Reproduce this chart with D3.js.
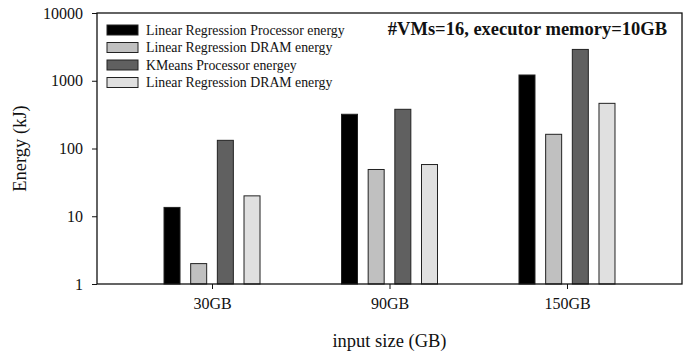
<!DOCTYPE html>
<html>
<head>
<meta charset="utf-8">
<title>Energy by input size</title>
<script src="https://cdnjs.cloudflare.com/ajax/libs/d3/7.8.5/d3.min.js"></script>
<style>
  body { margin: 0; background: #fff; }
  svg text { font-family: "Liberation Serif", "Times New Roman", serif; fill: #111; }
</style>
</head>
<body>
<div id="chart"></div>
<script>
// data
var sizes = ["30GB", "90GB", "150GB"];
var seriesNames = ["Linear Regression Processor energy", "Linear Regression DRAM energy",
                   "KMeans Processor energey", "Linear Regression DRAM energy"];
var lrProc  = [13.5, 320, 1216];
var lrDram  = [2.0, 49, 162];
var kmProc  = [132, 379, 2900];
var lrDram2 = [20, 58, 464];
var yTicks = [1, 10, 100, 1000, 10000];

var fills = ["#000000", "#c0c0c0", "#606060", "#e0e0e0"];
var allSeries = [lrProc, lrDram, kmProc, lrDram2];

var W = 694, H = 354;
var m = {top: 13, right: 12, bottom: 70, left: 97};
var serif = "'Liberation Serif', 'Times New Roman', serif";

var svg = d3.select("#chart").append("svg")
    .attr("width", W).attr("height", H);

var x = d3.scalePoint().domain(sizes)
    .range([m.left, W - m.right]).padding(0.648);
var y = d3.scaleLog().domain([1, 10000])
    .range([H - m.bottom, m.top]);
var inner = d3.scaleBand().domain(d3.range(4))
    .range([-48, 48]).paddingInner(0.4);

// bars
allSeries.forEach(function(vals, s) {
    svg.append("g").selectAll("rect")
        .data(vals)
        .enter().append("rect")
        .attr("x", function(d, i) { return x(sizes[i]) + inner(s); })
        .attr("y", function(d) { return y(d); })
        .attr("width", inner.bandwidth())
        .attr("height", function(d) { return y(1) - y(d); })
        .style("fill", fills[s])
        .style("stroke", "#222")
        .style("stroke-width", 1);
});

// frame
svg.append("rect")
    .attr("x", m.left).attr("y", m.top)
    .attr("width", W - m.right - m.left)
    .attr("height", H - m.bottom - m.top)
    .style("fill", "none").style("stroke", "#111").style("stroke-width", 1.3);

var yAxis = svg.append("g")
    .attr("transform", "translate(" + m.left + ",0)")
    .call(d3.axisLeft(y).tickValues(yTicks).tickFormat(d3.format("d"))
        .tickSize(5).tickPadding(9));
var xAxis = svg.append("g")
    .attr("transform", "translate(0," + (H - m.bottom) + ")")
    .call(d3.axisBottom(x).tickSize(5).tickPadding(9));
[yAxis, xAxis].forEach(function(a) {
    a.attr("font-family", serif).attr("font-size", 16);
    a.select(".domain").remove();
    a.selectAll("line").style("stroke", "#111");
    a.selectAll("text").style("font-size", "16px")
        .style("font-family", serif).style("fill", "#111");
});

// axis titles
svg.append("text")
    .attr("transform", "translate(26," + ((m.top + H - m.bottom) / 2) + ") rotate(-90)")
    .attr("text-anchor", "middle")
    .style("font-family", serif)
    .style("font-size", "18.5px")
    .text("Energy (kJ)");
svg.append("text")
    .attr("x", (m.left + W - m.right) / 2).attr("y", 347)
    .attr("text-anchor", "middle")
    .style("font-family", serif)
    .style("font-size", "18.5px")
    .text("input size (GB)");

// annotation
svg.append("text")
    .attr("x", 667).attr("y", 35)
    .attr("text-anchor", "end")
    .style("font-family", serif)
    .style("font-size", "18.5px").style("font-weight", "bold")
    .text("#VMs=16, executor memory=10GB");

// legend
var leg = svg.append("g").selectAll("g")
    .data(seriesNames)
    .enter().append("g")
    .attr("transform", function(d, i) { return "translate(107," + (30 + i * 17.5) + ")"; });
leg.append("rect")
    .attr("x", 0).attr("y", -5)
    .attr("width", 31).attr("height", 10)
    .style("fill", function(d, i) { return fills[i]; })
    .style("stroke", "#222").style("stroke-width", 1);
leg.append("text")
    .attr("x", 39).attr("y", 4.5)
    .style("font-family", serif)
    .style("font-size", "13.8px")
    .text(function(d) { return d; });
</script>
</body>
</html>
